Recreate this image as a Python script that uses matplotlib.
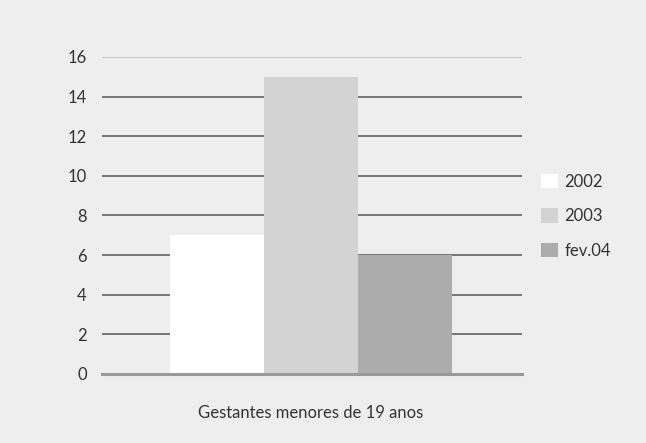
import matplotlib
matplotlib.use("Agg")
import matplotlib.pyplot as plt
from matplotlib.patches import Patch

# data
category = "Gestantes menores de 19 anos"
series = ["2002", "2003", "fev.04"]
values = [7, 15, 6]
colors = ["#ffffff", "#d3d3d3", "#acacac"]
yticks = [0, 2, 4, 6, 8, 10, 12, 14, 16]

plt.rcParams["font.family"] = ["Lato", "DejaVu Sans"]

bg = "#eeeeee"
fig = plt.figure(figsize=(6.46, 4.43), dpi=100, facecolor=bg)
ax = fig.add_axes([0.158, 0.1558, 0.650, 0.7156], facecolor=bg)

offsets = [-1, 0, 1]
for off, v, c, name in zip(offsets, values, colors, series):
    ax.bar(off, v, width=1.0, color=c, edgecolor="none", zorder=3, label=name)

ax.set_xlim(-2.223, 2.245)
ax.set_ylim(0, 16)
ax.set_yticks(yticks)
ax.set_yticklabels([str(t) for t in yticks])
ax.set_xticks([0])
ax.set_xticklabels([category])

# horizontal gridlines
for t in yticks[1:]:
    col = "#bbbbbb" if t == yticks[-1] else "#555555"
    ax.axhline(t, color=col, lw=1.1, zorder=1)
ax.axhline(0, color="#999999", lw=2.2, zorder=4, clip_on=False)

for s in ax.spines.values():
    s.set_visible(False)
ax.tick_params(axis="both", length=0, labelsize=12, colors="#333333")
ax.tick_params(axis="y", pad=11)
ax.tick_params(axis="x", pad=22)

handles = [Patch(facecolor=c, edgecolor="none", label=n) for c, n in zip(colors, series)]
leg = ax.legend(handles=handles, loc="center left", bbox_to_anchor=(1.03, 0.498),
                frameon=False, fontsize=12, handlelength=1.0, handleheight=1.0,
                handletextpad=0.4, labelspacing=1.1, borderaxespad=0)
for t in leg.get_texts():
    t.set_color("#333333")

fig.savefig("out.png", dpi=100, facecolor=bg)
